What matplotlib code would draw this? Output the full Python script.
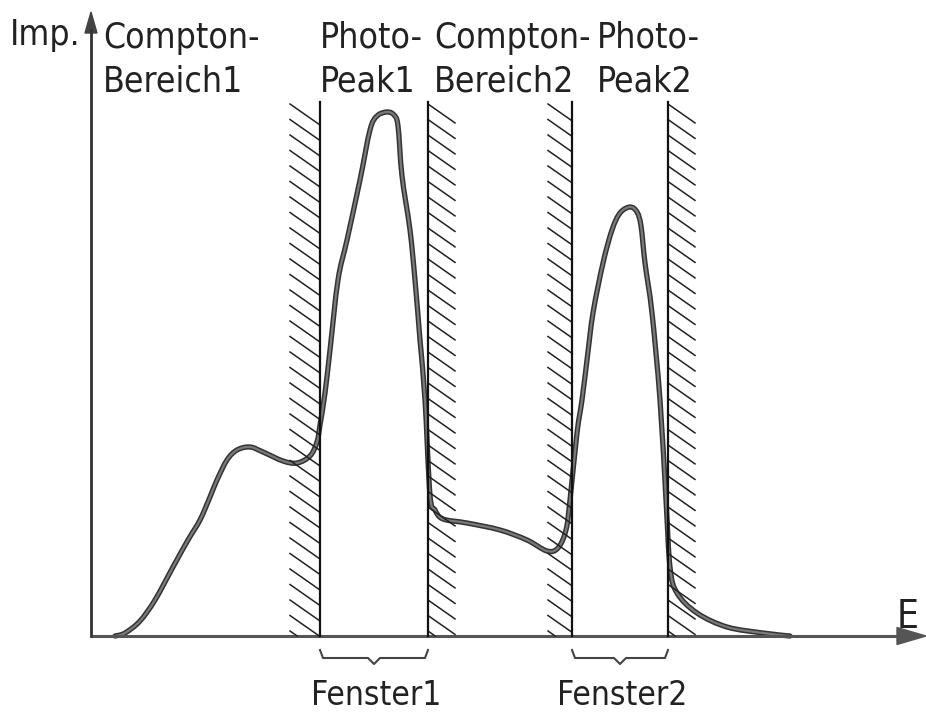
import numpy as np
import matplotlib
matplotlib.use('Agg')
import matplotlib.pyplot as plt
from matplotlib.path import Path
from matplotlib.patches import PathPatch

plt.rcParams['font.family'] = ['DejaVu Sans']
plt.rcParams['font.stretch'] = 'condensed'

# Spektrum (E, Impulse) in willkuerlichen Einheiten
E = [24, 34, 49, 64, 82, 97, 109, 119, 126, 136, 146, 159, 172, 192, 206, 219, 226, 229,
     234, 239, 247, 256, 269, 279, 286, 296, 303, 307, 311, 319, 324, 329, 334, 339, 344,
     352, 376, 409, 436, 456, 467, 475, 479, 486, 491, 496, 502, 512, 521, 529, 539, 546,
     550, 554, 561, 569, 575, 579, 586, 606, 636, 672, 699]
imp = [0, 3, 15, 36, 69, 96, 116, 139, 156, 176, 186, 189, 184, 175, 173, 180, 194, 211,
       243, 286, 356, 396, 456, 506, 520, 524, 521, 510, 460, 406, 356, 296, 236, 141, 126,
       117, 113, 106, 96, 85, 88, 106, 136, 203, 236, 276, 323, 373, 406, 423, 429, 424,
       410, 373, 323, 236, 136, 69, 43, 23, 9, 3, 0]

# Fenstergrenzen und schraffierte Bereiche (links, rechts)
fenster = [(229, 337), (481, 577)]
schraffur = [(199, 229), (337, 364), (457, 481), (577, 604)]
oben = 534

labels_oben = ['Compton-\nBereich1', 'Photo-\nPeak1', 'Compton-\nBereich2', 'Photo-\nPeak2']
labels_x = [12, 229, 343, 506]
labels_fenster = ['Fenster1', 'Fenster2']

fig = plt.figure(figsize=(9.26, 7.13), dpi=100)
ax = fig.add_axes([0, 0, 1, 1])
ax.set_xlim(-91, 835)
ax.set_ylim(-77, 636)
ax.axis('off')

# Achsen
ax.plot([0, 810], [0, 0], color='#555555', lw=2.2, solid_capstyle='butt')
ax.plot([0, 0], [0, 606], color='#333333', lw=2.0)
ax.fill([806, 835, 806], [-8.5, 0, 8.5], color='#555555')
ax.fill([-6, 0, 6], [603, 624, 603], color='#444444')

# Schraffur
k = 0.7
step = 15.5
for xa, xb in schraffur:
    w = xb - xa
    for c in np.arange(oben - 2, -k * w - 1, -step):
        x0, x1 = xa, xb
        if c > oben:
            x0 = xa + (c - oben) / k
        if c - k * w < 0:
            x1 = xa + c / k
        if x1 > x0:
            ax.plot([x0, x1], [c - k * (x0 - xa), c - k * (x1 - xa)],
                    color='#222222', lw=1.1)

# Fensterlinien
for a, b in fenster:
    ax.plot([a, a], [0, oben], color='#111111', lw=1.6)
    ax.plot([b, b], [0, oben], color='#111111', lw=1.6)

# Kurve als glatter Bezierpfad durch die Punkte (Catmull-Rom)
P = np.column_stack([E, imp]).astype(float)
verts = [P[0]]
codes = [Path.MOVETO]
for i in range(len(P) - 1):
    p0 = P[max(i - 1, 0)]
    p1 = P[i]
    p2 = P[i + 1]
    p3 = P[min(i + 2, len(P) - 1)]
    verts += [p1 + (p2 - p0) / 6, p2 - (p3 - p1) / 6, p2]
    codes += [Path.CURVE4] * 3
kurve = Path(verts, codes)
ax.add_patch(PathPatch(kurve, fill=False, edgecolor='#333333', lw=3.8, joinstyle='round', capstyle='round'))
ax.add_patch(PathPatch(kurve, fill=False, edgecolor='#7a7a7a', lw=1.6, joinstyle='round', capstyle='round'))

# Klammern unter den Fenstern
for a, b in fenster:
    m = (a + b) / 2
    ax.plot([a, a + 3, m - 6, m, m + 6, b - 3, b],
            [-14, -22, -22, -28, -22, -22, -14], color='#444444', lw=1.5)

# Beschriftung
fs = 25.5
ax.text(-81, 591, 'Imp.', fontsize=fs, va='baseline', color='#222222')
for t, x in zip(labels_oben, labels_x):
    ax.text(x, 544, t, fontsize=fs, va='baseline', ha='left', linespacing=1.38, color='#222222')
ax.text(806, 8, 'E', fontsize=28, va='baseline', color='#222222')
for t, (a, b) in zip(labels_fenster, fenster):
    ax.text((a + b) / 2 + 2, -69, t, fontsize=24, va='baseline', ha='center', color='#222222')

fig.savefig('out.png', dpi=100)
